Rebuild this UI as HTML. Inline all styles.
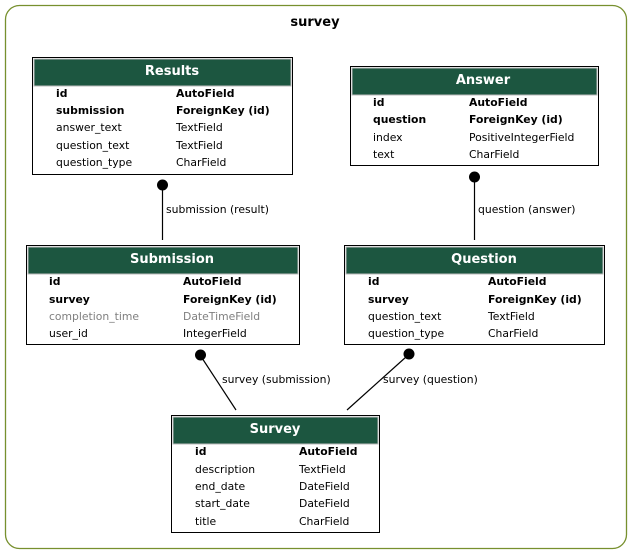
<!DOCTYPE html>
<html><head><meta charset="utf-8"><style>
html,body{margin:0;padding:0;background:#fff;}
svg{display:block;font-family:"DejaVu Sans","Liberation Sans",sans-serif;}
.h{fill:#fff;font-weight:bold;font-size:13px;}
.t{font-size:10.8px;fill:#000;}
.b{font-weight:bold;}
.g{fill:#7f7f7f;}
</style></head><body>
<svg width="632" height="555" viewBox="0 0 632 555" xmlns="http://www.w3.org/2000/svg">
<rect x="5.5" y="5.5" width="621" height="543" rx="14" fill="#fff" stroke="#77902e" stroke-width="1.3"/>
<text x="315" y="26" text-anchor="middle" font-weight="bold" font-size="13px">survey</text>

<rect x="32.5" y="57.5" width="260" height="117" fill="#fff" stroke="#000"/>
<rect x="34" y="59" width="257" height="27" fill="#1c5640" stroke="#bbb" stroke-width="1"/>
<text class="h" x="172" y="75" text-anchor="middle">Results</text>
<g class="t">
<text x="56" y="97" class="b">id</text><text x="176" y="97" class="b">AutoField</text>
<text x="56" y="114" class="b">submission</text><text x="176" y="114" class="b">ForeignKey (id)</text>
<text x="56" y="131">answer_text</text><text x="176" y="131">TextField</text>
<text x="56" y="149">question_text</text><text x="176" y="149">TextField</text>
<text x="56" y="166">question_type</text><text x="176" y="166">CharField</text>
</g>

<rect x="350.5" y="66.5" width="248" height="99" fill="#fff" stroke="#000"/>
<rect x="352" y="68" width="245" height="27" fill="#1c5640" stroke="#bbb"/>
<text class="h" x="483" y="84" text-anchor="middle">Answer</text>
<g class="t">
<text x="373" y="106" class="b">id</text><text x="469" y="106" class="b">AutoField</text>
<text x="373" y="123" class="b">question</text><text x="469" y="123" class="b">ForeignKey (id)</text>
<text x="373" y="141">index</text><text x="469" y="141">PositiveIntegerField</text>
<text x="373" y="158">text</text><text x="469" y="158">CharField</text>
</g>

<rect x="26.5" y="245.5" width="273" height="99" fill="#fff" stroke="#000"/>
<rect x="28" y="247" width="270" height="27" fill="#1c5640" stroke="#bbb"/>
<text class="h" x="172" y="263" text-anchor="middle">Submission</text>
<g class="t">
<text x="49" y="285" class="b">id</text><text x="183" y="285" class="b">AutoField</text>
<text x="49" y="303" class="b">survey</text><text x="183" y="303" class="b">ForeignKey (id)</text>
<text x="49" y="320" class="g">completion_time</text><text x="183" y="320" class="g">DateTimeField</text>
<text x="49" y="337">user_id</text><text x="183" y="337">IntegerField</text>
</g>

<rect x="344.5" y="245.5" width="260" height="99" fill="#fff" stroke="#000"/>
<rect x="346" y="247" width="257" height="27" fill="#1c5640" stroke="#bbb"/>
<text class="h" x="484" y="263" text-anchor="middle">Question</text>
<g class="t">
<text x="368" y="285" class="b">id</text><text x="488" y="285" class="b">AutoField</text>
<text x="368" y="303" class="b">survey</text><text x="488" y="303" class="b">ForeignKey (id)</text>
<text x="368" y="320">question_text</text><text x="488" y="320">TextField</text>
<text x="368" y="337">question_type</text><text x="488" y="337">CharField</text>
</g>

<rect x="171.5" y="415.5" width="208" height="117" fill="#fff" stroke="#000"/>
<rect x="173" y="417" width="205" height="27" fill="#1c5640" stroke="#bbb"/>
<text class="h" x="275" y="433" text-anchor="middle">Survey</text>
<g class="t">
<text x="195" y="455" class="b">id</text><text x="299" y="455" class="b">AutoField</text>
<text x="195" y="473">description</text><text x="299" y="473">TextField</text>
<text x="195" y="490">end_date</text><text x="299" y="490">DateField</text>
<text x="195" y="507">start_date</text><text x="299" y="507">DateField</text>
<text x="195" y="525">title</text><text x="299" y="525">CharField</text>
</g>

<g stroke="#000" stroke-width="1.2">
<line x1="162.5" y1="188" x2="162.5" y2="240"/>
<line x1="474.5" y1="180" x2="474.5" y2="240"/>
<line x1="202" y1="358" x2="236" y2="410"/>
<line x1="406" y1="357" x2="347" y2="410"/>
</g>
<g fill="#000">
<circle cx="162.5" cy="185" r="5.5"/>
<circle cx="474.5" cy="177" r="5.5"/>
<circle cx="200.5" cy="355" r="5.5"/>
<circle cx="409" cy="354" r="5.5"/>
</g>
<g class="t">
<text x="166" y="213">submission (result)</text>
<text x="478" y="213">question (answer)</text>
<text x="222" y="383">survey (submission)</text>
<text x="383" y="383">survey (question)</text>
</g>
</svg>
</body></html>
